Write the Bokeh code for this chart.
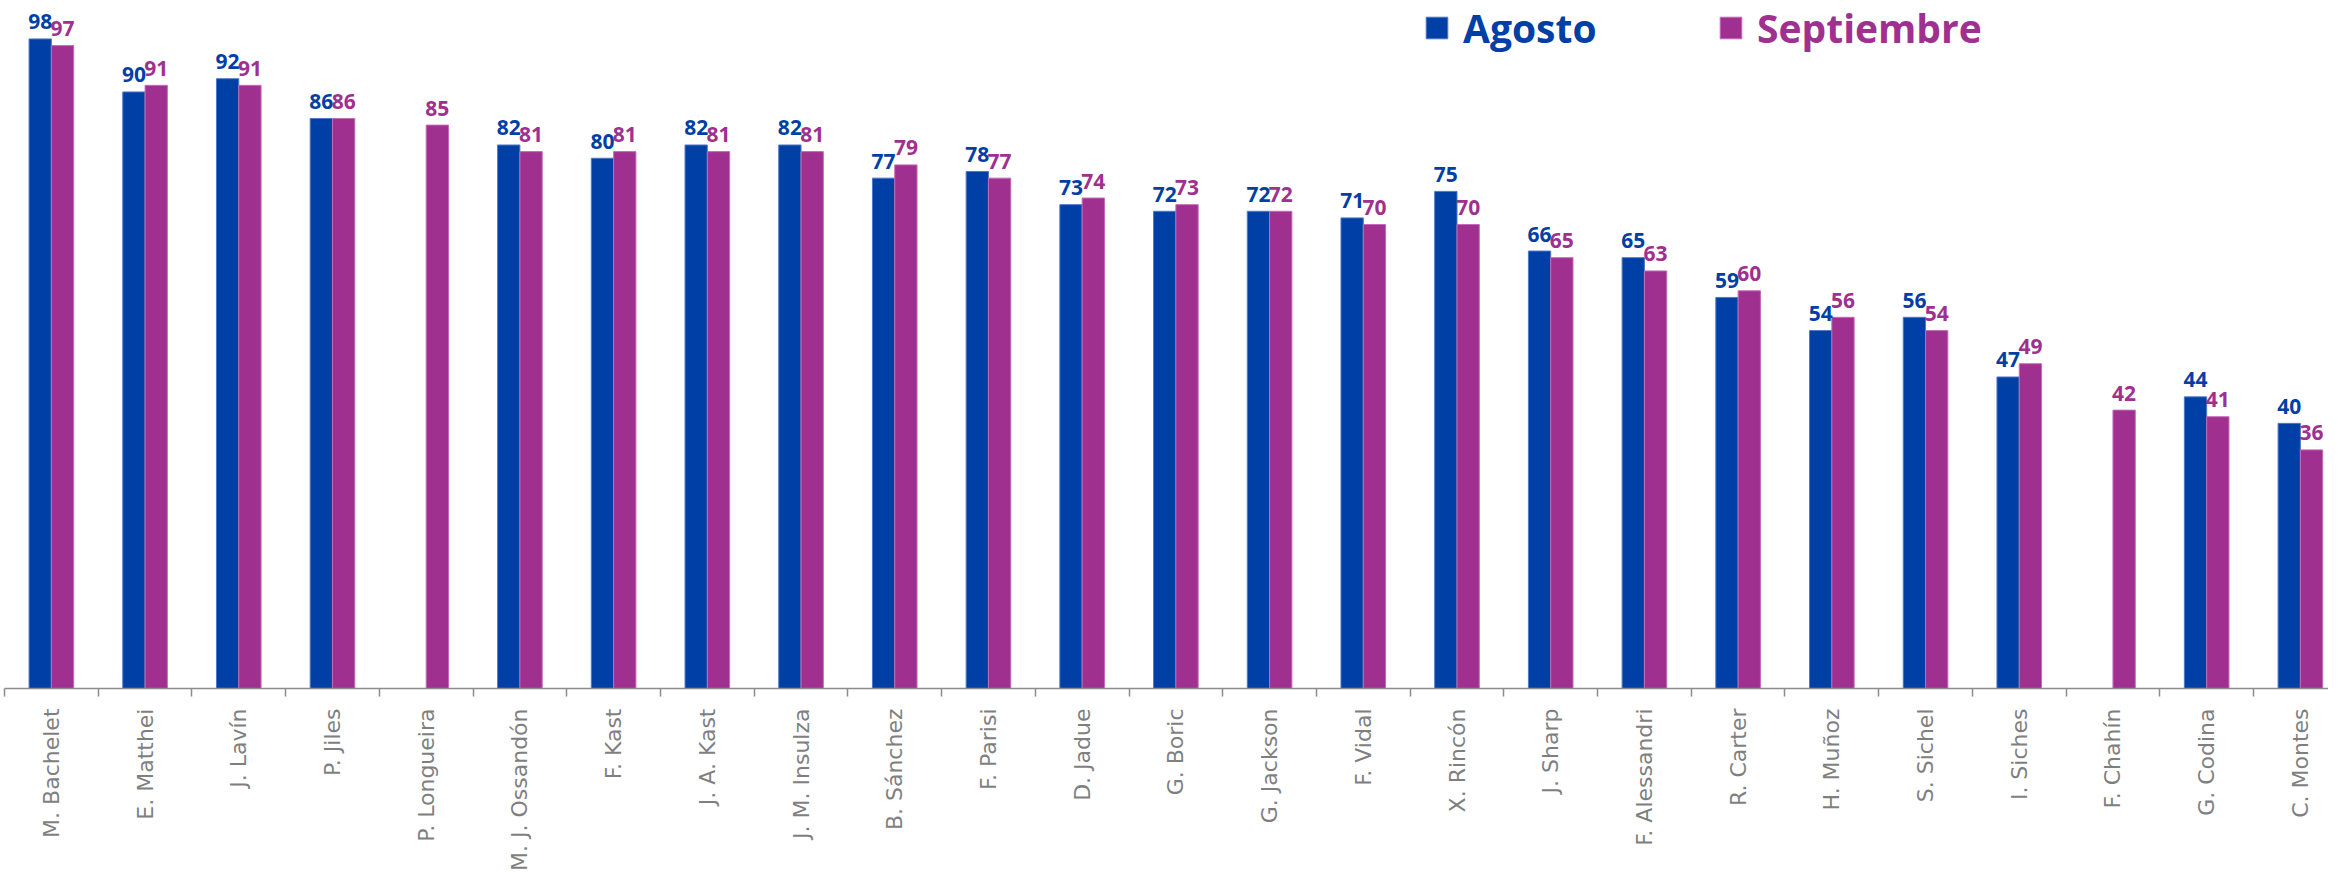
import numpy as np
from bokeh.plotting import figure
from bokeh.models import ColumnDataSource, FixedTicker, Legend, LegendItem, Range1d
from bokeh.core.properties import value
from bokeh.embed import file_html
from bokeh.resources import INLINE

candidates = ["M. Bachelet", "E. Matthei", "J. Lavín", "P. Jiles", "P. Longueira",
              "M. J. Ossandón", "F. Kast", "J. A. Kast", "J. M. Insulza", "B. Sánchez",
              "F. Parisi", "D. Jadue", "G. Boric", "G. Jackson", "F. Vidal",
              "X. Rincón", "J. Sharp", "F. Alessandri", "R. Carter", "H. Muñoz",
              "S. Sichel", "I. Siches", "F. Chahín", "G. Codina", "C. Montes"]
agosto = [98, 90, 92, 86, None, 82, 80, 82, 82, 77, 78, 73, 72, 72, 71,
          75, 66, 65, 59, 54, 56, 47, None, 44, 40]
septiembre = [97, 91, 91, 86, 85, 81, 81, 81, 81, 79, 77, 74, 73, 72, 70,
              70, 65, 63, 60, 56, 54, 49, 42, 41, 36]
series_names = ["Agosto", "Septiembre"]

BLUE = "#003FA6"
PURPLE = "#9F3090"

n = len(candidates)
idx = np.arange(n)
bw = 0.238
a_vals = np.array([np.nan if v is None else v for v in agosto], dtype=float)
s_vals = np.array([np.nan if v is None else v for v in septiembre], dtype=float)

src_a = ColumnDataSource(dict(x=idx + 0.5 - bw / 2, top=a_vals,
                              lab=["" if v is None else str(v) for v in agosto]))
src_s = ColumnDataSource(dict(x=idx + 0.5 + bw / 2, top=s_vals,
                              lab=["" if v is None else str(v) for v in septiembre]))

W, H = 2328, 873
p = figure(width=W, height=H, output_backend="svg", toolbar_location=None,
           x_range=Range1d(0, 24.8), y_range=Range1d(0, 103.8),
           y_axis_location=None, min_border_left=4, min_border_right=0,
           min_border_top=0, outline_line_color=None)
p.xgrid.visible = False
p.ygrid.visible = False

r1 = p.vbar(x="x", top="top", width=bw, source=src_a, fill_color=BLUE,
            line_color="#4D78C8", line_width=1)
r2 = p.vbar(x="x", top="top", width=bw, source=src_s, fill_color=PURPLE,
            line_color="#C56BB8", line_width=1)

for src, col in ((src_a, BLUE), (src_s, PURPLE)):
    p.text(x="x", y="top", text="lab", source=src, text_align="center",
           text_baseline="alphabetic", y_offset=-17, text_color=col,
           text_font=value("Open Sans"), text_font_style="bold", text_font_size="21px")

ax = p.xaxis[0]
ax.ticker = FixedTicker(ticks=list(idx + 0.5), minor_ticks=list(np.arange(n + 1)))
ax.major_label_overrides = {float(i + 0.5): c for i, c in enumerate(candidates)}
ax.major_label_orientation = np.pi / 2
ax.major_label_text_font = "DejaVu Sans"
ax.major_label_text_font_size = "22px"
ax.major_label_text_color = "#7F7F7F"
ax.major_label_standoff = 12
ax.major_tick_out = 0
ax.major_tick_in = 0
ax.minor_tick_out = 8
ax.minor_tick_in = 0
ax.minor_tick_line_color = "#8C8C8C"
ax.minor_tick_line_width = 1.5
ax.axis_line_color = "#8C8C8C"
ax.axis_line_width = 1.5

common = dict(orientation="horizontal", glyph_width=27, glyph_height=27,
              label_standoff=13, label_text_font="Open Sans",
              label_text_font_style="bold", label_text_font_size="39px",
              padding=0, margin=0, border_line_alpha=0, background_fill_alpha=0)
leg_a = Legend(items=[LegendItem(label=series_names[0], renderers=[r1])],
               location=(1419, 634), label_text_color=BLUE, **common)
leg_s = Legend(items=[LegendItem(label=series_names[1], renderers=[r2])],
               location=(1713, 634), label_text_color=PURPLE, **common)
p.add_layout(leg_a)
p.add_layout(leg_s)

open("out.html", "w").write(file_html(p, INLINE))
